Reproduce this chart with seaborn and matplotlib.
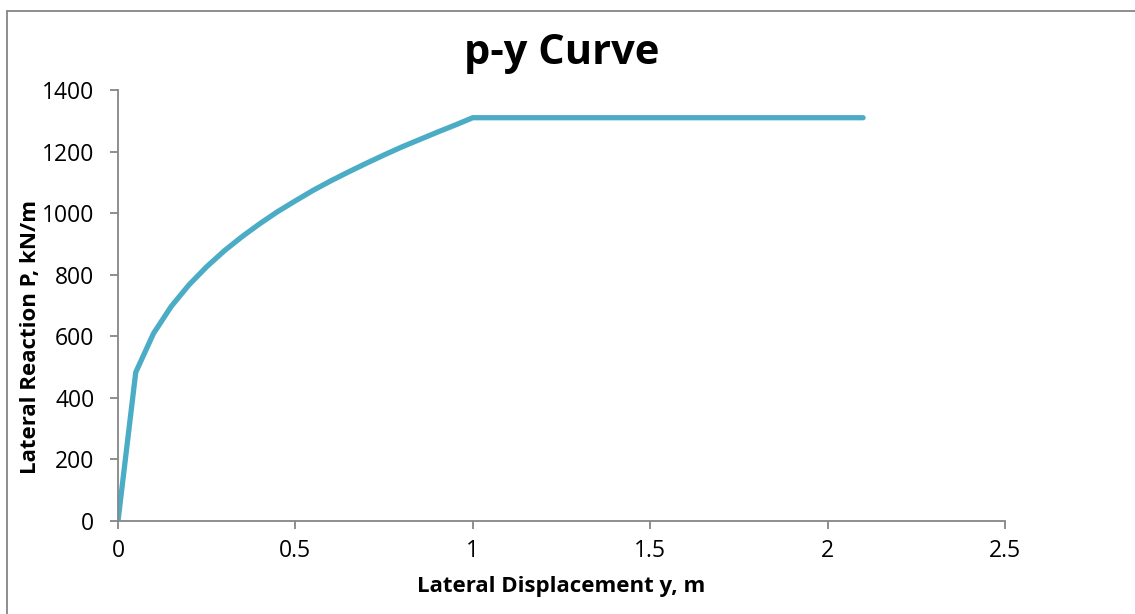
import matplotlib
matplotlib.use("Agg")
import matplotlib.pyplot as plt
import seaborn as sns
import pandas as pd
from matplotlib.lines import Line2D

displacement = [0, 0.05, 0.1, 0.15, 0.2, 0.25, 0.3, 0.35, 0.4, 0.45, 0.5,
                0.55, 0.6, 0.65, 0.7, 0.75, 0.8, 0.85, 0.9, 0.95, 1.0, 2.1]
reaction = [0, 483, 609, 697, 767, 826, 878, 924, 966, 1005, 1040,
            1074, 1105, 1134, 1162, 1189, 1215, 1239, 1263, 1286, 1310, 1310]
x_ticks = [0, 0.5, 1, 1.5, 2, 2.5]
x_tick_labels = ["0", "0.5", "1", "1.5", "2", "2.5"]
y_ticks = [0, 200, 400, 600, 800, 1000, 1200, 1400]

sns.set_theme(style="white")
plt.rcParams['font.family'] = ['Open Sans', 'DejaVu Sans']
plt.rcParams['text.color'] = 'black'
plt.rcParams['axes.labelcolor'] = 'black'

df = pd.DataFrame({"y": displacement, "P": reaction})

fig = plt.figure(figsize=(11.35, 6.14), dpi=100)
ax = fig.add_axes([118/1135, 93/614, 887/1135, 431/614])

sns.lineplot(data=df, x="y", y="P", ax=ax, color="#4BACC6", linewidth=3.8,
             sort=False, solid_capstyle="round", solid_joinstyle="round")

ax.set_xlim(0, 2.5)
ax.set_ylim(0, 1400)
ax.set_xticks(x_ticks)
ax.set_xticklabels(x_tick_labels)
ax.set_yticks(y_ticks)

for s in ["top", "right"]:
    ax.spines[s].set_visible(False)
for s in ["left", "bottom"]:
    ax.spines[s].set_color("#868686")
    ax.spines[s].set_linewidth(1.3)

ax.tick_params(axis="both", which="major", direction="out", length=6, width=1.3,
               color="#868686", labelsize=16.5, labelcolor="black",
               bottom=True, left=True)
ax.tick_params(axis="y", pad=11)
ax.tick_params(axis="x", pad=7)

ax.set_xlabel("Lateral Displacement y, m", fontsize=16, fontweight="bold",
              labelpad=9, color="black")
ax.set_ylabel("Lateral Reaction P, kN/m", fontsize=16, fontweight="bold",
              color="black")
ax.yaxis.set_label_coords(-0.087, 0.427)
ax.set_title("p-y Curve", fontsize=30, fontweight="bold", pad=19, color="black")
ax.grid(False)

# chart frame
fig.add_artist(Line2D([7/1135, 7/1135], [0, 1 - 11/614], transform=fig.transFigure,
                      color="#868686", linewidth=1.3))
fig.add_artist(Line2D([7/1135, 1], [1 - 11/614, 1 - 11/614], transform=fig.transFigure,
                      color="#868686", linewidth=1.3))

fig.savefig("out.png", dpi=100, facecolor="white")
